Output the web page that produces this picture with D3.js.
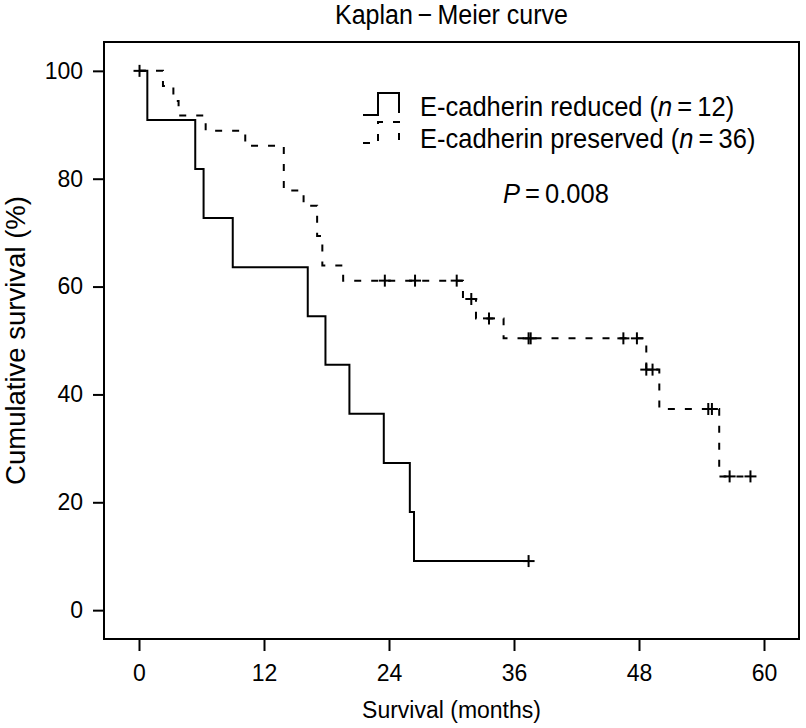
<!DOCTYPE html>
<html>
<head>
<meta charset="utf-8">
<script src="https://cdn.jsdelivr.net/npm/d3@7"></script>
<style>
  html, body { margin: 0; padding: 0; background: #fff; }
  text { font-family: "Liberation Sans", Arial, Helvetica, sans-serif; fill: #000; }
</style>
</head>
<body>
<svg id="chart" width="806" height="728"></svg>
<script>
// ---------- data ----------
const xTicks = [0, 12, 24, 36, 48, 60];
const yTicks = [0, 20, 40, 60, 80, 100];

// E-cadherin reduced (n = 12): step times (months) and survival (%) after each step
const reducedTimes = [0, 0.8, 5.4, 6.2, 9.0, 16.2, 17.9, 20.2, 23.5, 26.0, 26.4, 37.4];
const reducedSurv  = [100, 90.9, 81.8, 72.7, 63.6, 54.5, 45.5, 36.4, 27.3, 18.2, 9.1, 9.1];
const reducedCensorTimes = [0.05, 37.4];
const reducedCensorSurv  = [100, 9.1];

// E-cadherin preserved (n = 36)
const preservedTimes = [0, 2.3, 3.3, 3.8, 6.4, 10.2, 13.9, 15.8, 17.1, 17.6, 19.6, 31.1, 32.35, 35.0, 48.7, 49.95, 55.7, 58.7];
const preservedSurv  = [100, 97.2, 94.4, 91.7, 88.9, 86.1, 77.8, 75.0, 69.4, 63.9, 61.1, 57.7, 54.1, 50.4, 44.6, 37.3, 24.8, 24.8];
const preservedCensorTimes = [23.6, 26.5, 30.5, 31.9, 33.6, 37.4, 37.6, 46.5, 47.8, 48.7, 49.3, 54.65, 55.0, 56.7, 58.7];
const preservedCensorSurv  = [61.1, 61.1, 61.1, 57.7, 54.1, 50.4, 50.4, 50.4, 50.4, 44.6, 44.6, 37.3, 37.3, 24.8, 24.8];

const titleText = "Kaplan\u2009\u2212\u2009Meier curve";
const xTitle = "Survival (months)";
const yTitle = "Cumulative survival (%)";
const legendLabels = ["E-cadherin reduced", "E-cadherin preserved"];
const legendN = [12, 36];
const pText = "0.008";

// ---------- layout ----------
const svg = d3.select("#chart");
const box = { left: 104, right: 799, top: 42, bottom: 639 };

const x = d3.scaleLinear().domain([-3.36, 63.36]).range([box.left, box.right]);
const y = d3.scaleLinear().domain([-5.35, 105.35]).range([box.bottom, box.top]);

svg.append("rect").attr("width", 806).attr("height", 728).attr("fill", "#fff");

// frame
svg.append("rect")
  .attr("x", box.left).attr("y", box.top)
  .attr("width", box.right - box.left).attr("height", box.bottom - box.top)
  .attr("fill", "none").attr("stroke", "#000").attr("stroke-width", 2);

// axes
const xAxis = d3.axisBottom(x).tickValues(xTicks).tickSize(12).tickPadding(14).tickFormat(d3.format("d"));
const gx = svg.append("g").attr("transform", `translate(0,${box.bottom})`).call(xAxis);
gx.select(".domain").remove();
gx.selectAll(".tick line").attr("stroke", "#000").attr("stroke-width", 2);
gx.selectAll(".tick text").attr("font-size", 23).style("font-family", "'Liberation Sans', Arial, sans-serif");

const yAxis = d3.axisLeft(y).tickValues(yTicks).tickSize(11).tickPadding(10).tickFormat(d3.format("d"));
const gy = svg.append("g").attr("transform", `translate(${box.left},0)`).call(yAxis);
gy.select(".domain").remove();
gy.selectAll(".tick line").attr("stroke", "#000").attr("stroke-width", 2);
gy.selectAll(".tick text").attr("font-size", 23).style("font-family", "'Liberation Sans', Arial, sans-serif");

// titles
svg.append("text")
  .attr("transform", `translate(${(box.left + box.right) / 2},24) scale(1,1.08)`)
  .attr("text-anchor", "middle").attr("font-size", 25).text(titleText);
svg.append("text")
  .attr("transform", `translate(${(box.left + box.right) / 2},718) scale(1,1.05)`)
  .attr("text-anchor", "middle").attr("font-size", 23).text(xTitle);
svg.append("text")
  .attr("transform", `translate(25,${(box.top + box.bottom) / 2}) rotate(-90)`)
  .attr("text-anchor", "middle").attr("font-size", 27.5).text(yTitle);

// curves
const line = d3.line().x(d => x(d[0])).y(d => y(d[1])).curve(d3.curveStepAfter);
const reduced = reducedTimes.map((t, i) => [t, reducedSurv[i]]);
const preserved = preservedTimes.map((t, i) => [t, preservedSurv[i]]);

svg.append("path").datum(reduced).attr("d", line)
  .attr("fill", "none").attr("stroke", "#000").attr("stroke-width", 2);
svg.append("path").datum(preserved).attr("d", line)
  .attr("fill", "none").attr("stroke", "#000").attr("stroke-width", 2)
  .attr("stroke-dasharray", "7,10");

// censor marks
function censor(times, survs) {
  const g = svg.append("g").attr("stroke", "#000").attr("stroke-width", 2);
  times.forEach((t, i) => {
    const cx = x(t), cy = y(survs[i]);
    g.append("line").attr("x1", cx - 6).attr("x2", cx + 6).attr("y1", cy).attr("y2", cy);
    g.append("line").attr("x1", cx).attr("x2", cx).attr("y1", cy - 6).attr("y2", cy + 6);
  });
}
censor(reducedCensorTimes, reducedCensorSurv);
censor(preservedCensorTimes, preservedCensorSurv);

// legend
const lg = svg.append("g");
const symX = 363, symW = 36;
const rows = [{ yb: 115, yt: 93, dash: null }, { yb: 143, yt: 122, dash: "7,10" }];
rows.forEach((r, i) => {
  const pts = [[symX, r.yb], [symX + 15, r.yb], [symX + 15, r.yt], [symX + symW, r.yt], [symX + symW, r.yb - 2]];
  lg.append("path").attr("d", d3.line()(pts)).attr("fill", "none")
    .attr("stroke", "#000").attr("stroke-width", 2)
    .attr("stroke-dasharray", r.dash);
  const t = lg.append("text")
    .attr("transform", `translate(420,${i === 0 ? 116 : 148}) scale(1,1.1)`)
    .attr("font-size", 25.5);
  t.append("tspan").text(legendLabels[i] + " (");
  t.append("tspan").attr("font-style", "italic").text("n");
  t.append("tspan").text("\u2009=\u2009" + legendN[i] + ")");
});

// P value
const pt = svg.append("text")
  .attr("transform", "translate(503,203) scale(1,1.1)")
  .attr("font-size", 25.5);
pt.append("tspan").attr("font-style", "italic").text("P");
pt.append("tspan").text("\u2009=\u2009" + pText);
</script>
</body>
</html>
